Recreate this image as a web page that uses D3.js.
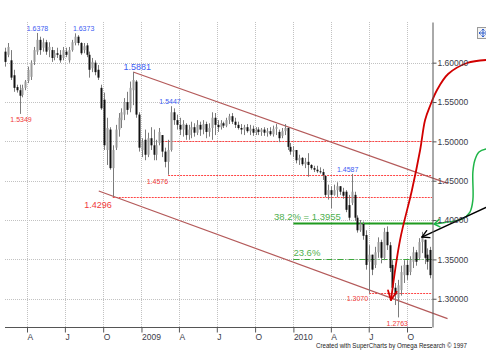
<!DOCTYPE html>
<html><head><meta charset="utf-8">
<script src="https://cdn.jsdelivr.net/npm/d3@7"></script>
<style>
html,body{margin:0;padding:0;background:#fff;}
svg{display:block;font-family:"Liberation Sans",Arial,sans-serif;}
</style></head><body>
<svg id="c" width="486" height="357"></svg>
<script>
// ---------------- DATA ----------------
const barOpen = [1.614,1.610,1.603,1.584,1.569,1.565,1.559,1.568,1.577,1.582,1.601,1.614,1.629,1.619,1.626,1.616,1.616,1.607,1.612,1.610,
1.606,1.614,1.603,1.616,1.625,1.633,1.625,1.616,1.622,1.610,1.593,1.600,1.591,1.568,1.553,1.489,1.515,1.466,1.492,1.515,
1.527,1.534,1.550,1.542,1.565,1.576,1.534,1.489,1.502,1.483,1.504,1.495,1.483,1.498,1.508,1.487,1.474,1.489,1.537,1.527,
1.521,1.515,1.521,1.508,1.515,1.518,1.511,1.521,1.515,1.522,1.512,1.517,1.530,1.521,1.518,1.523,1.520,1.527,1.532,1.525,
1.521,1.517,1.515,1.518,1.513,1.516,1.511,1.515,1.512,1.515,1.511,1.513,1.509,1.516,1.512,1.507,1.513,1.517,1.493,1.487,
1.489,1.476,1.479,1.471,1.474,1.470,1.466,1.464,1.462,1.461,1.456,1.432,1.438,1.432,1.438,1.443,1.436,1.436,1.419,1.422,
1.432,1.403,1.387,1.395,1.381,1.347,1.356,1.343,1.359,1.372,1.352,1.385,1.368,1.343,1.314,1.301,1.311,1.330,1.343,1.334,
1.347,1.359,1.352,1.372,1.375,1.356,1.362];
const barHigh = [1.619,1.625,1.616,1.591,1.572,1.572,1.572,1.578,1.595,1.603,1.620,1.6378,1.633,1.631,1.629,1.626,1.620,1.616,1.619,1.616,
1.620,1.619,1.620,1.629,1.6373,1.635,1.626,1.625,1.625,1.614,1.606,1.603,1.597,1.572,1.562,1.530,1.518,1.495,1.521,1.536,
1.542,1.555,1.563,1.576,1.5881,1.578,1.537,1.504,1.515,1.511,1.518,1.515,1.502,1.517,1.508,1.492,1.502,1.5447,1.542,1.534,
1.530,1.527,1.523,1.521,1.525,1.523,1.527,1.525,1.527,1.525,1.523,1.537,1.536,1.527,1.527,1.525,1.530,1.535,1.536,1.530,
1.525,1.522,1.521,1.522,1.521,1.520,1.518,1.518,1.517,1.518,1.517,1.518,1.520,1.522,1.515,1.517,1.522,1.518,1.498,1.494,
1.489,1.483,1.480,1.479,1.485,1.471,1.469,1.469,1.467,1.465,1.457,1.445,1.443,1.445,1.448,1.443,1.441,1.438,1.432,1.4587,
1.436,1.406,1.400,1.398,1.387,1.368,1.356,1.366,1.378,1.375,1.390,1.392,1.372,1.349,1.320,1.324,1.342,1.349,1.349,1.354,
1.366,1.362,1.377,1.385,1.375,1.364,1.366];
const barLow = [1.595,1.607,1.578,1.563,1.562,1.5349,1.556,1.565,1.574,1.578,1.597,1.610,1.610,1.614,1.610,1.607,1.601,1.603,1.606,1.600,
1.603,1.607,1.600,1.614,1.622,1.622,1.610,1.612,1.607,1.581,1.588,1.584,1.578,1.540,1.489,1.470,1.464,1.4296,1.489,1.506,
1.517,1.527,1.534,1.537,1.546,1.530,1.487,1.480,1.476,1.480,1.489,1.476,1.476,1.495,1.480,1.467,1.4576,1.487,1.521,1.515,
1.508,1.506,1.502,1.502,1.504,1.506,1.508,1.507,1.509,1.504,1.506,1.502,1.508,1.512,1.515,1.517,1.518,1.522,1.522,1.517,
1.515,1.509,1.508,1.511,1.508,1.507,1.508,1.508,1.507,1.507,1.506,1.507,1.506,1.508,1.499,1.504,1.508,1.489,1.483,1.480,
1.472,1.470,1.469,1.466,1.455,1.464,1.461,1.460,1.459,1.451,1.429,1.426,1.415,1.431,1.429,1.432,1.427,1.410,1.400,1.419,
1.399,1.384,1.385,1.375,1.337,1.3070,1.330,1.339,1.352,1.345,1.349,1.362,1.334,1.309,1.292,1.2763,1.304,1.320,1.324,1.330,
1.339,1.342,1.349,1.358,1.344,1.337,1.326];
const barClose = [1.601,1.620,1.581,1.568,1.565,1.558,1.568,1.576,1.591,1.600,1.616,1.629,1.616,1.626,1.614,1.620,1.606,1.612,1.610,1.603,
1.616,1.610,1.616,1.626,1.633,1.625,1.612,1.621,1.610,1.591,1.601,1.588,1.581,1.542,1.495,1.517,1.466,1.489,1.515,1.530,
1.537,1.550,1.540,1.568,1.578,1.534,1.492,1.499,1.483,1.504,1.495,1.483,1.495,1.512,1.487,1.474,1.489,1.537,1.527,1.521,
1.515,1.522,1.508,1.515,1.518,1.511,1.521,1.515,1.522,1.512,1.517,1.530,1.521,1.518,1.523,1.520,1.527,1.532,1.525,1.521,
1.517,1.515,1.518,1.513,1.516,1.511,1.515,1.512,1.515,1.511,1.513,1.509,1.516,1.518,1.504,1.513,1.517,1.493,1.487,1.489,
1.476,1.479,1.471,1.474,1.470,1.466,1.464,1.462,1.461,1.457,1.432,1.438,1.432,1.438,1.443,1.436,1.431,1.413,1.403,1.436,
1.403,1.387,1.395,1.380,1.343,1.356,1.337,1.359,1.372,1.352,1.385,1.368,1.339,1.314,1.305,1.317,1.334,1.343,1.330,1.349,
1.359,1.347,1.372,1.380,1.352,1.347,1.330];
// weekly bars (Fridays)
const weekDates = d3.timeFriday.range(new Date(2008,1,8), new Date(2010,10,27));
const quarterTicks = [new Date(2008,3,1),new Date(2008,6,1),new Date(2008,9,1),new Date(2009,0,1),new Date(2009,3,1),
  new Date(2009,6,1),new Date(2009,9,1),new Date(2010,0,1),new Date(2010,3,1),new Date(2010,6,1),new Date(2010,9,1)];
const quarterLabels = ["A","J","O","2009","A","J","O","2010","A","J","O"];
const priceTicks = [1.30,1.35,1.40,1.45,1.50,1.55,1.60];
// swing highs / lows marked on the chart (bar index, value)
const swingBars   = [5, 11, 24, 37, 44, 56, 57, 119, 125, 135];
const swingValues = [1.5349, 1.6378, 1.6373, 1.4296, 1.5881, 1.4576, 1.5447, 1.4587, 1.3070, 1.2763];
const swingKinds  = ["low","high","high","low","high","low","high","high","low","low"];
// horizontal support levels (bar index where they start, value)
const supportFrom   = [54, 56, 37, 125];
const supportValues = [1.5000, 1.4576, 1.4296, 1.3070];
// Fibonacci retracements of 1.5881 -> 1.2763
const fibPct    = ["38.2%", "23.6%"];
const fibValues = [1.3955, 1.3499];
const fibStart  = new Date(2010,0,1);
// trend channel (bar index, value)
const channelUpper = [[44, 1.5881], [151.9, 1.4467]];
const channelLower = [[32.2, 1.4369], [151.9, 1.2747]];
// hand-drawn forecast arrows (bar index, value)
const redArrow = [[165.1,1.6034],[158.6,1.5996],[152.1,1.5856],[148.3,1.5653],[145.9,1.5450],[144.2,1.5272],[142.5,1.4890],[139.7,1.4382],[135.6,1.3746],[132.5,1.2984]];
const greenArrow = [[165.1,1.4903],[162.7,1.4865],[161.3,1.4763],[160.6,1.4611],[160.6,1.4255],[159.6,1.4102],[156.9,1.4013],[151.0,1.3969],[147.3,1.3950]];
const blackArrow = [[165.1,1.4160],[143.1,1.3784]];

// ---------------- CHART ----------------
const svg = d3.select("#c");
const x = d3.scaleTime().domain([new Date(2008,1,5), new Date(2010,10,30)]).range([3.7, 432]);
const y = d3.scaleLinear().domain([1.2641, 1.6517]).range([327, 22]);
const xi = i => x(new Date(+weekDates[0] + i*7*86400000));
const X0 = 5, X1 = 432, YT = 22, YB = 327;

// grid
const grid = svg.append("g").attr("stroke","#c2c2c2").attr("stroke-dasharray","1,1").attr("stroke-width",1);
grid.selectAll("line.h").data(priceTicks).join("line").attr("class","h")
  .attr("x1",X0).attr("x2",X1).attr("y1",d=>Math.round(y(d))+0.5).attr("y2",d=>Math.round(y(d))+0.5);
grid.selectAll("line.v").data(quarterTicks).join("line").attr("class","v")
  .attr("x1",d=>Math.round(x(d))+0.5).attr("x2",d=>Math.round(x(d))+0.5).attr("y1",YT).attr("y2",YB);

// support levels
svg.append("g").selectAll("line").data(supportValues).join("line")
  .attr("x1",(d,i)=>xi(supportFrom[i])).attr("x2",X1)
  .attr("y1",d=>Math.round(y(d))+0.5).attr("y2",d=>Math.round(y(d))+0.5)
  .attr("stroke","#ff4444").attr("stroke-width",1).attr("stroke-dasharray","2,1");

// fib lines
const fibG = svg.append("g");
fibG.append("line").attr("x1",x(fibStart)).attr("x2",X1+1)
  .attr("y1",y(fibValues[0])).attr("y2",y(fibValues[0]))
  .attr("stroke","#1f9a1f").attr("stroke-width",2);
fibG.append("line").attr("x1",x(fibStart)).attr("x2",X1)
  .attr("y1",Math.round(y(fibValues[1]))+0.5).attr("y2",Math.round(y(fibValues[1]))+0.5)
  .attr("stroke","#3aa83a").attr("stroke-width",1).attr("stroke-dasharray","6,2,1,2");
fibG.append("text").attr("x",274).attr("y",y(fibValues[0])-4)
  .attr("fill","#4fb04f").attr("font-size",9.5).text(fibPct[0]+" = "+fibValues[0].toFixed(4));
fibG.append("text").attr("x",x(fibStart)).attr("y",y(fibValues[1])-3.5)
  .attr("fill","#4fb04f").attr("font-size",9.5).text(fibPct[1]);

// channel
const lineGen = d3.line().x(d=>xi(d[0])).y(d=>y(d[1]));
svg.append("g").selectAll("path").data([channelUpper, channelLower]).join("path")
  .attr("d",lineGen).attr("fill","none").attr("stroke","#b45a5a").attr("stroke-width",1.2);

// candles
const bars = weekDates.map((d,i)=>({d, o:barOpen[i], h:barHigh[i], l:barLow[i], c:barClose[i]}));
const bg = svg.append("g");
bg.selectAll("line").data(bars).join("line")
  .attr("x1",d=>Math.round(x(d.d))+0.5).attr("x2",d=>Math.round(x(d.d))+0.5)
  .attr("y1",d=>y(d.h)).attr("y2",d=>y(d.l)).attr("stroke","#7c7c7c").attr("stroke-width",1);
bg.selectAll("rect").data(bars).join("rect")
  .attr("x",d=>Math.round(x(d.d))-0.5).attr("width",2)
  .attr("y",d=>y(Math.max(d.o,d.c))).attr("height",d=>Math.max(1,Math.abs(y(d.o)-y(d.c))))
  .attr("fill",d=>d.c>=d.o?"#999":"#111");

// swing labels
const labelLayout = [
  {a:"middle",dx:1.5,dy:8,s:7},   // 1.5349
  {a:"middle",dx:0.5,dy:-2,s:7},  // 1.6378
  {a:"start",dx:-2,dy:-2,s:7},    // 1.6373
  {a:"end",dx:-1,dy:11,s:9},      // 1.4296
  {a:"middle",dx:4,dy:-2,s:9},    // 1.5881
  {a:"end",dx:0,dy:9.5,s:7},      // 1.4576
  {a:"middle",dx:-1,dy:-2,s:7},   // 1.5447
  {a:"middle",dx:-4,dy:-2,s:7},   // 1.4587
  {a:"end",dx:-1,dy:8,s:7},       // 1.3070
  {a:"middle",dx:-1,dy:8.5,s:7}   // 1.2763
];
svg.append("g").selectAll("text").data(swingValues).join("text")
  .attr("x",(d,i)=>xi(swingBars[i])+labelLayout[i].dx)
  .attr("y",(d,i)=>y(d)+labelLayout[i].dy)
  .attr("text-anchor",(d,i)=>labelLayout[i].a)
  .attr("font-size",(d,i)=>labelLayout[i].s)
  .attr("fill",(d,i)=>swingKinds[i]==="high"?"#3d5cf2":"#f03a3a")
  .text(d=>d.toFixed(4));

// arrows
function head(pts, len, ang){
  const t = pts[pts.length-1], f = pts[pts.length-2];
  const a = Math.atan2(f[1]-t[1], f[0]-t[0]);
  return [[t[0]+len*Math.cos(a+ang), t[1]+len*Math.sin(a+ang)], t, [t[0]+len*Math.cos(a-ang), t[1]+len*Math.sin(a-ang)]];
}
const curve = d3.line().curve(d3.curveCatmullRom.alpha(0.5));
function drawArrow(data, color, w, len, ang, curved){
  const pts = data.map(d=>[xi(d[0]), y(d[1])]);
  const g = svg.append("g").attr("fill","none").attr("stroke",color).attr("stroke-width",w).attr("stroke-linecap","round").attr("stroke-linejoin","round");
  g.append("path").attr("d", curved ? curve(pts) : d3.line()(pts));
  g.append("path").attr("d", d3.line()(head(pts,len,ang)));
}
drawArrow(redArrow, "#d10000", 1.8, 10, 0.45, true);
drawArrow(greenArrow, "#1fb548", 1.5, 6.5, 0.6, true);
drawArrow(blackArrow, "#000", 1.4, 8, 0.5, false);

// axes
const yAxis = d3.axisRight(y).tickValues(priceTicks).tickFormat(d3.format(".5f")).tickSize(4).tickPadding(1).tickSizeOuter(0);
const gy = svg.append("g").attr("transform","translate(432.5,0)").call(yAxis);
gy.selectAll("text").attr("font-size",8.5).attr("fill","#3b3b48").attr("font-family","Liberation Sans, Arial, sans-serif");
gy.selectAll("line,path").attr("stroke","#555");

const xAxis = d3.axisBottom(x).tickValues(quarterTicks).tickFormat((d,i)=>quarterLabels[i]).tickSize(5).tickPadding(1).tickSizeOuter(0);
const gx = svg.append("g").attr("transform","translate(0,327.5)").call(xAxis);
gx.select(".domain").attr("d","M"+X0+",0H"+X1);
gx.selectAll("text").attr("font-size",8.5).attr("fill","#3b3b48").attr("text-anchor","start").attr("dx",0).attr("font-family","Liberation Sans, Arial, sans-serif");
gx.selectAll("line,path").attr("stroke","#555");

// move icon
const ic = svg.append("g");
ic.append("rect").attr("x",477.5).attr("y",27.5).attr("width",11).attr("height",11).attr("fill","#f2f2f2").attr("stroke","#9a9a9a");
ic.append("path").attr("d","M479,33H487M483,29V37M479,33l1.5,-1.5M479,33l1.5,1.5M483,29l-1.5,1.5M483,29l1.5,1.5M483,37l-1.5,-1.5M483,37l1.5,-1.5M487,33l-1.5,-1.5M487,33l-1.5,1.5")
  .attr("stroke","#2f5fd0").attr("stroke-width",1).attr("fill","none");

// credit
svg.append("text").attr("x",316).attr("y",348).attr("font-size",7).attr("fill","#222")
  .attr("textLength",151).attr("lengthAdjust","spacingAndGlyphs")
  .text("Created with SuperCharts by Omega Research © 1997");
</script>
</body></html>
